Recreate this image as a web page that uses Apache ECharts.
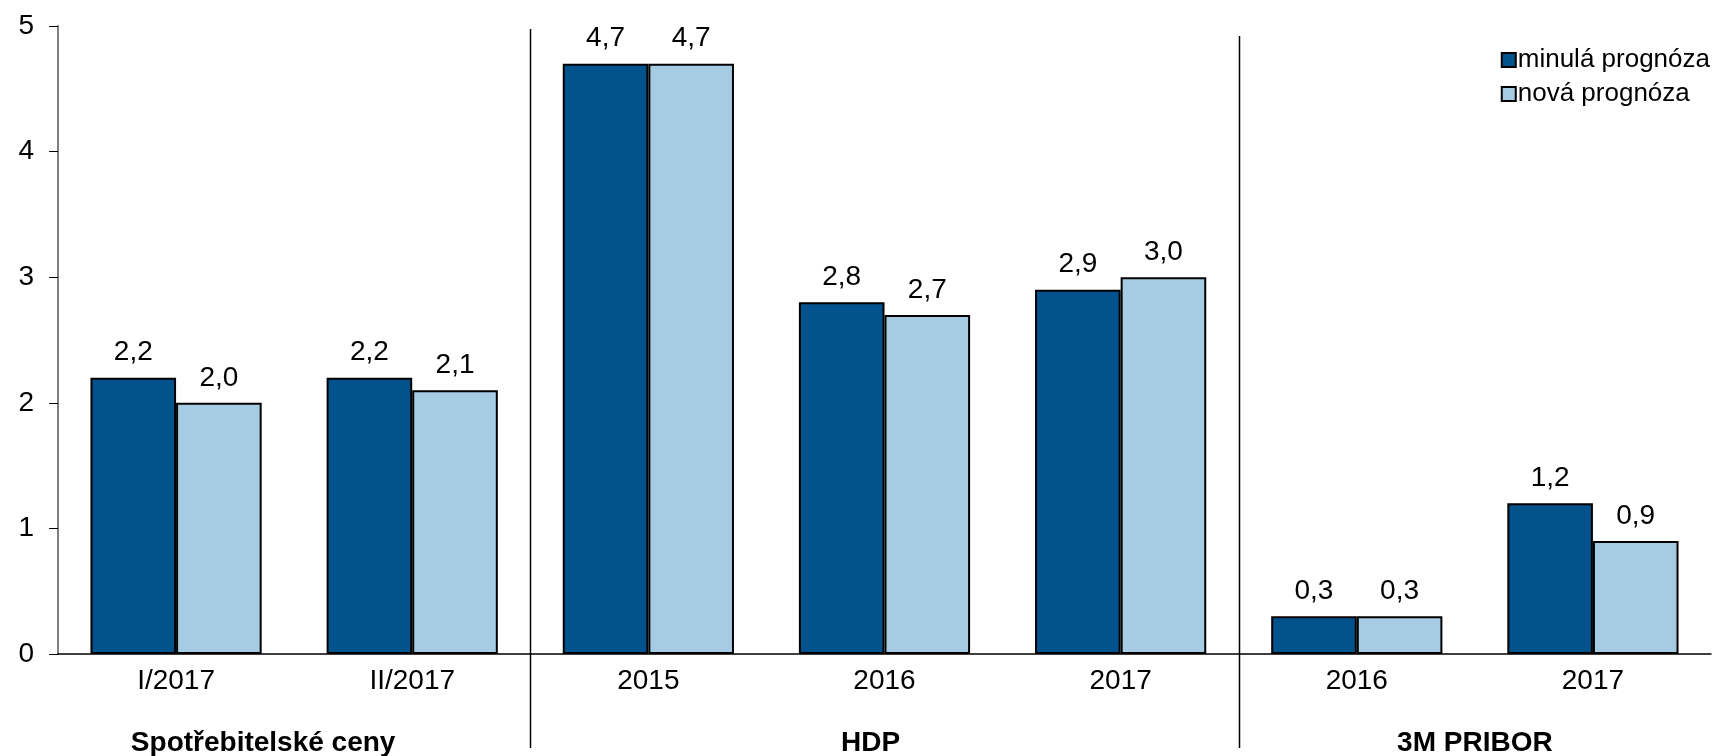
<!DOCTYPE html>
<html>
<head>
<meta charset="utf-8">
<script src="https://cdn.jsdelivr.net/npm/echarts@6/dist/echarts.min.js"></script>
<style>html,body{margin:0;padding:0;background:#fff}#c{width:1721px;height:756px}</style>
</head>
<body>
<div id="c"></div>
<script>
const categories = ['I/2017', 'II/2017', '2015', '2016', '2017', '2016', '2017'];
const seriesNames = ['minulá prognóza', 'nová prognóza'];
const previousForecast = [2.2, 2.2, 4.7, 2.8, 2.9, 0.3, 1.2];
const newForecast = [2.0, 2.1, 4.7, 2.7, 3.0, 0.3, 0.9];
const groups = [
  { name: 'Spotřebitelské ceny', from: 0, to: 1 },
  { name: 'HDP', from: 2, to: 4 },
  { name: '3M PRIBOR', from: 5, to: 6 }
];
const yTicks = [0, 1, 2, 3, 4, 5];

const FONT = 'Liberation Sans, Arial, sans-serif';
const chart = echarts.init(document.getElementById('c'), null, { renderer: 'canvas' });
const fmt = v => v.toFixed(1).replace('.', ',');
const labelStyle = {
  show: true, position: 'top', distance: 11,
  color: '#000', fontFamily: FONT, fontSize: 28,
  formatter: p => fmt(p.value)
};

chart.setOption({
  animation: false,
  grid: { left: 58, right: 10, top: 26, bottom: 102, containLabel: false },
  legend: {
    right: 6, top: 42, orient: 'vertical', itemGap: 8,
    itemWidth: 14, itemHeight: 14, icon: 'rect',
    itemStyle: { borderColor: '#000', borderWidth: 2 },
    textStyle: { fontFamily: FONT, fontSize: 26, color: '#000', padding: [0, 0, 0, -3] },
    data: seriesNames
  },
  xAxis: {
    type: 'category', data: categories,
    axisLine: { lineStyle: { color: '#000', width: 1.5 } },
    axisTick: { show: false },
    axisLabel: { color: '#000', fontFamily: FONT, fontSize: 28, margin: 13 }
  },
  yAxis: {
    type: 'value', min: yTicks[0], max: yTicks[yTicks.length - 1], interval: 1,
    axisLine: { show: true, lineStyle: { color: '#808080', width: 2 } },
    axisTick: { show: true, length: 9, lineStyle: { color: '#000', width: 1 } },
    splitLine: { show: false },
    axisLabel: { color: '#000', fontFamily: FONT, fontSize: 28, margin: 24 }
  },
  series: [
    {
      name: seriesNames[0], type: 'bar', data: previousForecast,
      barGap: '0%', barCategoryGap: '27.5%',
      itemStyle: { color: '#02528E', borderColor: '#000', borderWidth: 2 },
      label: labelStyle
    },
    {
      name: seriesNames[1], type: 'bar', data: newForecast,
      itemStyle: { color: '#A6CCE4', borderColor: '#000', borderWidth: 2 },
      label: labelStyle
    }
  ]
});

function addGraphics() {
  const els = [];
  const center = i => chart.convertToPixel({ xAxisIndex: 0 }, i);
  const tops = [29, 36];
  for (let g = 0; g < groups.length - 1; g++) {
    const x = Math.round((center(groups[g].to) + center(groups[g + 1].from)) / 2) + 0.5;
    els.push({ type: 'line', shape: { x1: x, y1: tops[g], x2: x, y2: 748 },
      style: { stroke: '#000', lineWidth: 1.5 }, z: 10 });
  }
  const offsets = [-31, -14, 0];
  groups.forEach((g, k) => {
    const cx = (center(g.from) + center(g.to)) / 2 + offsets[k];
    els.push({ type: 'text', x: cx, y: 743,
      style: { text: g.name, fontFamily: FONT, fontSize: 28, fontWeight: 'bold',
        fill: '#000', align: 'center', verticalAlign: 'middle' }, z: 10 });
  });
  chart.setOption({ graphic: els });
}
addGraphics();
</script>
</body>
</html>
